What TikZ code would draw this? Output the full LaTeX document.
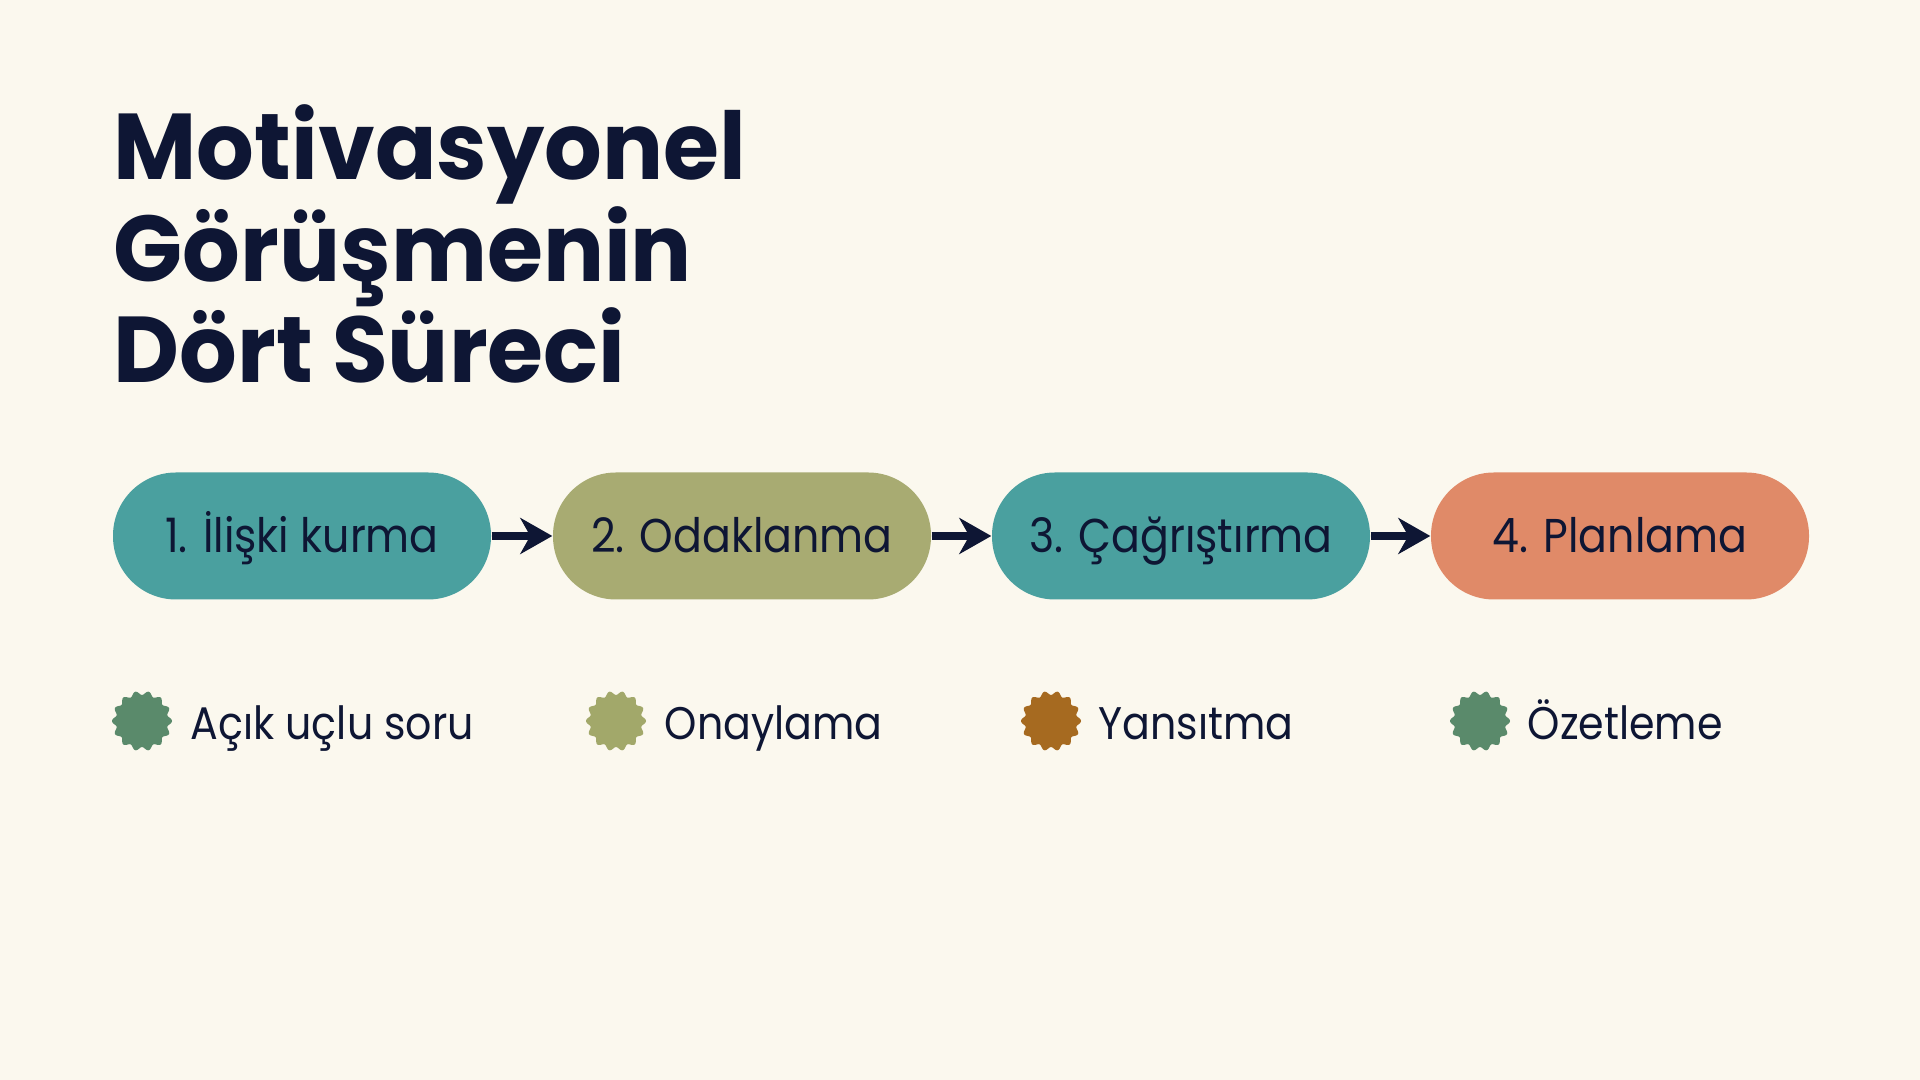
\documentclass[tikz,border=0pt]{standalone}
\usepackage{fontspec}
\setmainfont{Poppins}
\newfontfamily\titlefont[FakeStretch=0.97]{Poppins}
\newfontfamily\labelfont[FakeStretch=0.9]{Poppins}
\usetikzlibrary{arrows.meta}
\definecolor{bg}{HTML}{FBF8EE}
\definecolor{ink}{HTML}{0E1634}
\definecolor{teal}{HTML}{4AA09F}
\definecolor{olive}{HTML}{A8AB72}
\definecolor{salmon}{HTML}{E08A68}
\definecolor{sgreen}{HTML}{5A8A6B}
\definecolor{solive}{HTML}{A2A86A}
\definecolor{sbrown}{HTML}{A66A20}
\tikzset{
  stage/.style={rounded corners=0.63cm, minimum width=3.78cm, minimum height=1.27cm, inner sep=0pt, text height=0.5cm, text depth=0.16cm, text=ink, font=\labelfont\fontsize{13.5}{15}\selectfont},
  flow/.style={draw=ink, line width=0.08cm, -{Stealth[length=0.32cm,width=0.36cm,inset=0.1cm]}},
  legtext/.style={anchor=base west, inner sep=0pt, text=ink, font=\labelfont\fontsize{13}{15}\selectfont},
}
\newcommand{\drawburst}[2]{\begin{scope}[shift={(#1)}]\fill[#2] plot[domain=0:360, samples=241, smooth cycle] (\x:{0.28+0.02*cos(14*\x)});\end{scope}}
\begin{document}
\begin{tikzpicture}
\fill[bg] (0,0) rectangle (19.2,10.8);
\useasboundingbox (0,0) rectangle (19.2,10.8);
\node[anchor=base west, inner sep=0pt, align=left, text=ink, font=\titlefont\fontsize{26.6}{29}\selectfont\bfseries] (title) at (1.13,6.97) {Motivasyonel\\Görüşmenin\\Dört Süreci};
\node[stage, fill=teal] (b1) at (3.02,5.44) {1. İlişki kurma};
\node[stage, fill=olive] (b2) at (7.42,5.44) {2. Odaklanma};
\node[stage, fill=teal] (b3) at (11.81,5.44) {3. Çağrıştırma};
\node[stage, fill=salmon] (b4) at (16.20,5.44) {4. Planlama};
\draw[flow] (b1) -- (b2);
\draw[flow] (b2) -- (b3);
\draw[flow] (b3) -- (b4);
\coordinate (s1) at (1.42,3.59);
\coordinate (s2) at (6.16,3.59);
\coordinate (s3) at (10.51,3.59);
\coordinate (s4) at (14.80,3.59);
\drawburst{s1}{sgreen}
\drawburst{s2}{solive}
\drawburst{s3}{sbrown}
\drawburst{s4}{sgreen}
\node[legtext] (l1) at (1.90,3.40) {Açık uçlu soru};
\node[legtext] (l2) at (6.64,3.40) {Onaylama};
\node[legtext] (l3) at (10.98,3.40) {Yansıtma};
\node[legtext] (l4) at (15.27,3.40) {Özetleme};
\end{tikzpicture}
\end{document}
